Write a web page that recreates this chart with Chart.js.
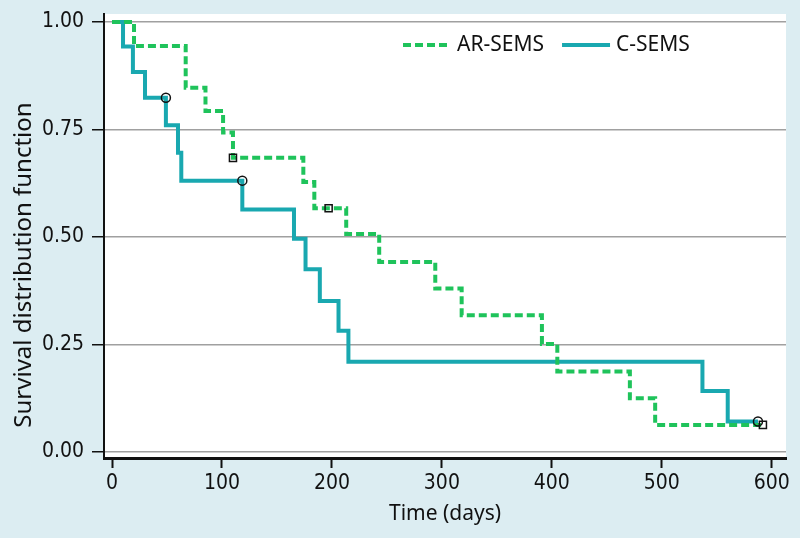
<!DOCTYPE html>
<html>
<head>
<meta charset="utf-8">
<script src="https://cdn.jsdelivr.net/npm/chart.js@4"></script>
<style>
  body { margin: 0; background: #dcedf2; }
  canvas { display: block; }
</style>
</head>
<body>
<canvas id="km" width="800" height="538"></canvas>
<script>
// Kaplan-Meier steps
const arDays = [0, 20, 67, 85, 101, 110, 174, 184, 213, 243, 294, 318, 391, 405, 471, 494, 592];
const arSurv = [1, 0.944, 0.847, 0.793, 0.743, 0.684, 0.628, 0.567, 0.507, 0.442, 0.380, 0.318, 0.251, 0.187, 0.125, 0.063, 0.063];
const cDays = [0, 10, 19, 30, 49, 60, 63, 118.5, 165.5, 176, 189, 206, 215, 537, 560, 587.5];
const cSurv = [1, 0.943, 0.884, 0.824, 0.760, 0.696, 0.631, 0.564, 0.496, 0.425, 0.351, 0.282, 0.210, 0.142, 0.071, 0.071];

// censored observations
const arCensDays = [110, 197, 592];
const arCensSurv = [0.684, 0.567, 0.063];
const cCensDays = [49, 118.5, 587.5];
const cCensSurv = [0.824, 0.631, 0.071];

const xTicks = [0, 100, 200, 300, 400, 500, 600];
const yTicks = [0, 0.25, 0.5, 0.75, 1];
const seriesNames = ['AR-SEMS', 'C-SEMS'];
const yTitulo = 'Survival distribution function';

const verde = '#1fc35b';
const turquesa = '#19a8b0';
const tickFont = { family: '"DejaVu Sans Condensed", "Liberation Sans Narrow", sans-serif', size: 21 };
const titleFont = { family: '"Noto Sans", "Open Sans", sans-serif', size: 21 };

function puntos(xs, ys) {
  return xs.map((x, i) => ({ x: x, y: ys[i] }));
}

// fondo blanco del area de la grafica
const fondoPlot = {
  id: 'fondoPlot',
  beforeDraw(chart) {
    const { ctx, chartArea: a } = chart;
    ctx.save();
    ctx.fillStyle = '#ffffff';
    ctx.fillRect(a.left, a.top, a.right - a.left, a.bottom - a.top);
    ctx.restore();
  }
};

// leyenda dentro del area y titulo del eje y
const leyenda = {
  id: 'leyenda',
  afterDraw(chart) {
    const ctx = chart.ctx;
    const y = 45;
    let x = 403;
    ctx.save();
    ctx.font = titleFont.size + 'px ' + titleFont.family;
    ctx.textBaseline = 'middle';
    ctx.fillStyle = '#111';
    const estilos = [
      { color: verde, dash: [8, 4] },
      { color: turquesa, dash: [] }
    ];
    seriesNames.forEach((nombre, i) => {
      ctx.strokeStyle = estilos[i].color;
      ctx.lineWidth = 4;
      ctx.setLineDash(estilos[i].dash);
      ctx.beginPath();
      ctx.moveTo(x, y);
      ctx.lineTo(x + 48, y);
      ctx.stroke();
      x += 54;
      ctx.fillText(nombre, x, y);
      x += ctx.measureText(nombre).width + 18;
    });

    // titulo del eje y
    ctx.translate(24, 265);
    ctx.rotate(-Math.PI / 2);
    ctx.font = '24px ' + titleFont.family;
    ctx.textAlign = 'center';
    ctx.fillText(yTitulo, 0, 0);
    ctx.restore();
  }
};

new Chart(document.getElementById('km'), {
  type: 'line',
  data: {
    datasets: [
      {
        label: 'AR-SEMS censored',
        data: puntos(arCensDays, arCensSurv),
        showLine: false,
        pointStyle: 'rect',
        pointRadius: 5,
        pointBorderColor: '#111',
        pointBackgroundColor: 'rgba(0,0,0,0)',
        pointBorderWidth: 1.5
      },
      {
        label: 'C-SEMS censored',
        data: puntos(cCensDays, cCensSurv),
        showLine: false,
        pointStyle: 'circle',
        pointRadius: 4.5,
        pointBorderColor: '#111',
        pointBackgroundColor: 'rgba(0,0,0,0)',
        pointBorderWidth: 1.5
      },
      {
        label: seriesNames[0],
        data: puntos(arDays, arSurv),
        borderColor: verde,
        borderWidth: 4,
        borderDash: [8, 4],
        stepped: true,
        pointRadius: 0,
        fill: false
      },
      {
        label: seriesNames[1],
        data: puntos(cDays, cSurv),
        borderColor: turquesa,
        borderWidth: 4,
        stepped: true,
        pointRadius: 0,
        fill: false
      }
    ]
  },
  options: {
    responsive: false,
    animation: false,
    layout: { padding: { top: 14, right: 14, left: 0, bottom: 0 } },
    plugins: {
      legend: { display: false },
      tooltip: { enabled: false }
    },
    scales: {
      x: {
        type: 'linear',
        min: -7.3,
        max: 613,
        afterBuildTicks: s => { s.ticks = xTicks.map(v => ({ value: v })); },
        afterFit: s => { s.height = 80; s.paddingLeft = 0; s.paddingRight = 0; },
        ticks: { font: tickFont, color: '#111', padding: 3, maxRotation: 0 },
        grid: { drawOnChartArea: false, tickLength: 10, tickColor: '#111', tickWidth: 2 },
        border: { color: '#111', width: 3 },
        title: {
          display: true,
          text: 'Time (days)',
          font: titleFont,
          color: '#111',
          padding: { top: 0, bottom: 11 }
        }
      },
      y: {
        min: -0.014,
        max: 1.0186,
        afterBuildTicks: s => { s.ticks = yTicks.map(v => ({ value: v })); },
        afterFit: s => { s.width = 104; s.paddingTop = 0; s.paddingBottom = 0; },
        ticks: { font: tickFont, color: '#111', padding: 8, callback: v => v.toFixed(2) },
        grid: { color: '#a0a0a0', lineWidth: 1.5, tickLength: 12, tickColor: '#111', tickWidth: 1.5 },
        border: { color: '#111', width: 2 }
      }
    }
  },
  plugins: [fondoPlot, leyenda]
});
</script>
</body>
</html>
